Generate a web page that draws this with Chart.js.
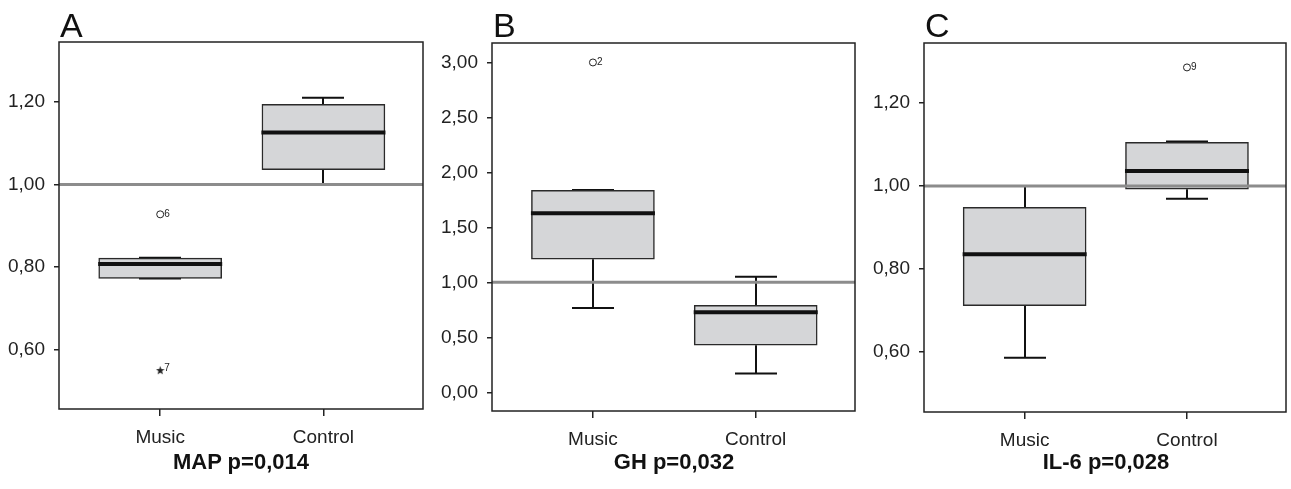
<!DOCTYPE html>
<html>
<head>
<meta charset="utf-8">
<script src="https://cdn.jsdelivr.net/npm/chart.js@4/dist/chart.umd.min.js"></script>
<style>
  html, body { margin:0; padding:0; background:#fff; }
  #wrap { position:relative; width:1291px; height:489px; overflow:hidden; font-family:"Liberation Sans", Arial, sans-serif; }
  .pane { position:absolute; top:0; height:489px; }
  .letter { position:absolute; top:8px; font-size:34px; color:#111; line-height:1; }
  .ttl { position:absolute; top:451px; font-size:22px; font-weight:bold; color:#111; text-align:center; line-height:1; }
</style>
</head>
<body>
<div id="wrap"></div>
<script>
// ---------- data ----------
const categories = ['Music', 'Control'];
const panelLetters = ['A', 'B', 'C'];
const panelTitles = ['MAP p=0,014', 'GH p=0,032', 'IL-6 p=0,028'];

// box statistics per group: [Music, Control]
const mapMin    = [0.773, 1.000];
const mapQ1     = [0.773, 1.036];
const mapMedian = [0.808, 1.126];
const mapQ3     = [0.822, 1.194];
const mapMax    = [0.823, 1.210];
const mapOutliers = [ {group:0, value:0.928, label:'6', style:'circle'}, {group:0, value:0.550, label:'7', style:'star'} ];
const mapTicks = [0.60, 0.80, 1.00, 1.20];
const mapRange = [0.457, 1.345];

const ghMin    = [0.767, 0.170];
const ghQ1     = [1.210, 0.428];
const ghMedian = [1.629, 0.728];
const ghQ3     = [1.838, 0.790];
const ghMax    = [1.840, 1.052];
const ghOutliers = [ {group:0, value:3.00, label:'2', style:'circle'} ];
const ghTicks = [0.00, 0.50, 1.00, 1.50, 2.00, 2.50, 3.00];
const ghRange = [-0.17, 3.177];

const il6Min    = [0.585, 0.969];
const il6Q1     = [0.711, 0.992];
const il6Median = [0.835, 1.036];
const il6Q3     = [0.948, 1.105];
const il6Max    = [1.000, 1.107];
const il6Outliers = [ {group:1, value:1.286, label:'9', style:'circle'} ];
const il6Ticks = [0.60, 0.80, 1.00, 1.20];
const il6Range = [0.454, 1.345];

const referenceValue = 1.0;

// ---------- layout (pixels) ----------
const panes = [
  { left:0,   width:430, plotLeft:59, plotRight:423, top:42, bottom:409, data:[mapMin,mapQ1,mapMedian,mapQ3,mapMax], out:mapOutliers, ticks:mapTicks, range:mapRange },
  { left:430, width:430, plotLeft:62, plotRight:426, top:43, bottom:411, data:[ghMin,ghQ1,ghMedian,ghQ3,ghMax], out:ghOutliers, ticks:ghTicks, range:ghRange },
  { left:860, width:431, plotLeft:64, plotRight:428, top:43, bottom:412, data:[il6Min,il6Q1,il6Median,il6Q3,il6Max], out:il6Outliers, ticks:il6Ticks, range:il6Range }
];
const X_MIN = 0.38, X_MAX = 2.61;
const FONT = '"Liberation Sans", Arial, sans-serif';

function fmt(v) { return v.toFixed(2).replace('.', ','); }

// small filled five-point star used as point style
function makeStar(size) {
  const c = document.createElement('canvas');
  c.width = size; c.height = size;
  const g = c.getContext('2d');
  const cx = size / 2, cy = size / 2, R = size / 2, r = R * 0.42;
  g.beginPath();
  for (let k = 0; k < 10; k++) {
    const a = -Math.PI / 2 + k * Math.PI / 5;
    const rr = k % 2 === 0 ? R : r;
    const px = cx + rr * Math.cos(a), py = cy + rr * Math.sin(a);
    if (k === 0) g.moveTo(px, py); else g.lineTo(px, py);
  }
  g.closePath();
  g.fillStyle = '#222';
  g.fill();
  return c;
}
const starImg = makeStar(9);

const boxPlugin = {
  id: 'boxExtras',
  beforeDatasetsDraw(chart) {
    const o = chart.options.plugins.boxExtras;
    const xs = chart.scales.x, ys = chart.scales.y, ctx = chart.ctx;
    const [mn, q1, md, q3, mx] = o.data;
    ctx.save();
    ctx.strokeStyle = '#111';
    ctx.lineWidth = 2;
    for (let g = 0; g < categories.length; g++) {
      const cx = Math.round(xs.getPixelForValue(g + 1));
      const capHalf = 21;
      const yq1 = ys.getPixelForValue(q1[g]), yq3 = ys.getPixelForValue(q3[g]);
      const ymn = ys.getPixelForValue(mn[g]), ymx = ys.getPixelForValue(mx[g]);
      ctx.beginPath();
      ctx.moveTo(cx, yq3); ctx.lineTo(cx, ymx);
      ctx.moveTo(cx - capHalf, ymx); ctx.lineTo(cx + capHalf, ymx);
      ctx.moveTo(cx, yq1); ctx.lineTo(cx, ymn);
      ctx.moveTo(cx - capHalf, ymn); ctx.lineTo(cx + capHalf, ymn);
      ctx.stroke();
    }
    ctx.restore();
  },
  afterDatasetsDraw(chart) {
    const o = chart.options.plugins.boxExtras;
    const xs = chart.scales.x, ys = chart.scales.y, ctx = chart.ctx;
    const ca = chart.chartArea;
    const md = o.data[2];
    ctx.save();
    // medians
    ctx.strokeStyle = '#111';
    ctx.lineWidth = 4;
    for (let g = 0; g < categories.length; g++) {
      const cx = xs.getPixelForValue(g + 1);
      const y = ys.getPixelForValue(md[g]);
      ctx.beginPath();
      ctx.moveTo(cx - 62, y); ctx.lineTo(cx + 62, y);
      ctx.stroke();
    }
    // outlier labels
    ctx.fillStyle = '#222';
    ctx.font = '10px ' + FONT;
    ctx.textBaseline = 'middle';
    ctx.textAlign = 'left';
    o.out.forEach(p => {
      const x = xs.getPixelForValue(p.group + 1), y = ys.getPixelForValue(p.value);
      ctx.fillText(p.label, x + 4, p.style === 'star' ? y - 2 : y);
    });
    // reference line
    const yr = ys.getPixelForValue(referenceValue);
    ctx.strokeStyle = '#8c8c8c';
    ctx.lineWidth = 3;
    ctx.beginPath();
    ctx.moveTo(ca.left, yr); ctx.lineTo(ca.right, yr);
    ctx.stroke();
    // frame
    ctx.strokeStyle = '#222';
    ctx.lineWidth = 1.5;
    ctx.strokeRect(ca.left, ca.top, ca.right - ca.left, ca.bottom - ca.top);
    ctx.restore();
  }
};

panes.forEach((p, i) => {
  const wrap = document.getElementById('wrap');
  const div = document.createElement('div');
  div.className = 'pane';
  div.style.left = p.left + 'px';
  div.style.width = p.width + 'px';
  const cv = document.createElement('canvas');
  cv.width = p.width; cv.height = 489;
  cv.style.width = p.width + 'px'; cv.style.height = '489px';
  div.appendChild(cv);
  wrap.appendChild(div);

  const letter = document.createElement('div');
  letter.className = 'letter';
  letter.textContent = panelLetters[i];
  letter.style.left = (p.left + p.plotLeft + 1) + 'px';
  wrap.appendChild(letter);

  const ttl = document.createElement('div');
  ttl.className = 'ttl';
  ttl.textContent = panelTitles[i];
  ttl.style.left = (p.left + p.plotLeft) + 'px';
  ttl.style.width = (p.plotRight - p.plotLeft) + 'px';
  wrap.appendChild(ttl);

  const [mn, q1, md, q3, mx] = p.data;
  const boxData = categories.map((c, g) => ({ x: g + 1, y: [q1[g], q3[g]] }));
  const circ = p.out.filter(o => o.style === 'circle').map(o => ({ x: o.group + 1, y: o.value }));
  const star = p.out.filter(o => o.style === 'star').map(o => ({ x: o.group + 1, y: o.value }));

  new Chart(cv, {
    type: 'bar',
    data: {
      datasets: [
        { type: 'bar', data: boxData, backgroundColor: '#d5d6d8', borderColor: '#2a2a2a', borderWidth: 1.5, borderSkipped: false, barThickness: 123, order: 2 },
        { type: 'scatter', data: circ, pointStyle: 'circle', pointRadius: 3.5, backgroundColor: '#fff', borderColor: '#222', borderWidth: 1, order: 1 },
        { type: 'scatter', data: star, pointStyle: starImg, pointRadius: 4.5, order: 1 }
      ]
    },
    options: {
      responsive: false,
      animation: false,
      events: [],
      layout: { padding: { top: p.top, right: p.width - p.plotRight, bottom: 0, left: 0 } },
      plugins: {
        legend: { display: false },
        tooltip: { enabled: false },
        boxExtras: { data: p.data, out: p.out }
      },
      scales: {
        x: {
          type: 'linear', offset: false, min: X_MIN, max: X_MAX,
          afterBuildTicks: s => { s.ticks = categories.map((c, g) => ({ value: g + 1 })); },
          afterFit: s => { s.height = 489 - p.bottom; },
          ticks: { callback: v => categories[v - 1], font: { size: 19, family: FONT }, color: '#222', padding: 10, maxRotation: 0, autoSkip: false },
          grid: { display: true, offset: false, drawOnChartArea: false, drawTicks: true, tickLength: 7, color: '#222', lineWidth: 1.5 },
          border: { display: false }
        },
        y: {
          type: 'linear', min: p.range[0], max: p.range[1],
          afterBuildTicks: s => { s.ticks = p.ticks.map(v => ({ value: v })); },
          afterFit: s => { s.width = p.plotLeft; },
          ticks: { callback: v => fmt(v), font: { size: 19, family: FONT }, color: '#222', padding: 9, autoSkip: false },
          grid: { display: true, offset: false, drawOnChartArea: false, drawTicks: true, tickLength: 5, color: '#222', lineWidth: 1.5 },
          border: { display: false }
        }
      }
    },
    plugins: [boxPlugin]
  });
});
</script>
</body>
</html>
